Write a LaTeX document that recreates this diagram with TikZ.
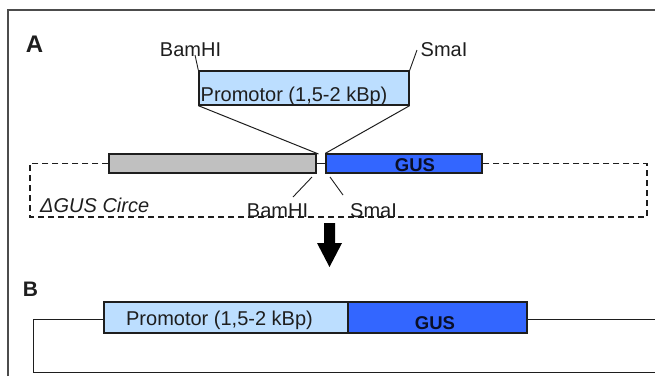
\documentclass[tikz,border=0pt]{standalone}
\usepackage{fontspec}
\setmainfont{Liberation Sans}
\definecolor{lightblue}{RGB}{188,222,255}
\definecolor{gusblue}{RGB}{51,102,255}
\definecolor{bargray}{RGB}{192,192,192}
\definecolor{ink}{RGB}{30,30,30}
\definecolor{gusink}{RGB}{10,15,40}
\begin{document}
\begin{tikzpicture}[x=1pt,y=-1pt,
  bar/.style={draw=ink,line width=1.3pt,inner sep=0pt,rectangle},
  txt/.style={inner sep=0pt,anchor=base,text=ink,font=\fontsize{20}{24}\selectfont},
  gustxt/.style={inner sep=0pt,anchor=base,text=gusink,font=\fontsize{18.5}{22}\selectfont\bfseries},
  tick/.style={draw=ink,line width=0.9pt},
  conn/.style={draw=ink,line width=1pt},
  dashline/.style={draw=ink,line width=1.2pt,dash pattern=on 6pt off 4pt}]
\useasboundingbox (0,0) rectangle (655,376);
% frame
\draw[draw=black!70,line width=1.5pt] (8,376) -- (8,10) -- (655,10);
% labels A, B
\node[txt,font=\fontsize{24}{28}\selectfont\bfseries] (lA) at (34.5,52) {A};
\node[txt,font=\fontsize{21}{25}\selectfont\bfseries] (lB) at (30.5,296) {B};
% Part A
\node[bar,fill=lightblue,minimum width=210pt,minimum height=34pt] (promA) at (304,88) {};
\node[txt,anchor=base west] (promAt) at (200.5,101) {Promotor (1,5-2 kBp)};
\node[txt] (bamTop) at (190.5,56) {BamHI};
\node[txt] (smaTop) at (444,56) {SmaI};
\coordinate (bamTopEnd) at (195,55);
\coordinate (smaTopEnd) at (417,50);
\draw[tick] (bamTopEnd) -- (promA.north west);
\draw[tick] (smaTopEnd) -- (promA.north east);
\node[bar,fill=bargray,minimum width=207pt,minimum height=19pt] (gray) at (212.5,163.5) {};
\node[bar,fill=gusblue,minimum width=156pt,minimum height=19pt] (gusA) at (404,163.5) {};
\node[gustxt] (gusAt) at (415,171.5) {GUS};
\coordinate (ins) at (318.5,154);
\draw[conn] (promA.south west) -- (ins);
\draw[conn] (promA.south east) -- (gusA.north west);
\draw[conn] (gray.east) -- (gusA.west);
\draw[dashline] (gray.west) -- (30,163.5) -- (30,217) -- (647,217) -- (647,163.5) -- (gusA.east);
\node[txt,anchor=base west,font=\fontsize{20}{24}\selectfont\itshape] (circe) at (40,212) {ΔGUS Circe};
\node[txt] (bamLow) at (277.5,217) {BamHI};
\node[txt] (smaLow) at (373.5,217) {SmaI};
\coordinate (bamLowA) at (312,177);
\coordinate (bamLowB) at (293,197);
\coordinate (smaLowA) at (330,177);
\coordinate (smaLowB) at (343,195);
\draw[tick] (bamLowA) -- (bamLowB);
\draw[tick] (smaLowA) -- (smaLowB);
% arrow
\fill[black] (324,223) -- (335,223) -- (335,243) -- (342,243) -- (329.5,267) -- (317,243) -- (324,243) -- cycle;
% Part B
\node[bar,fill=lightblue,minimum width=244pt,minimum height=31pt] (promB) at (226,317.5) {};
\node[bar,fill=gusblue,minimum width=179pt,minimum height=31pt] (gusB) at (437.5,317.5) {};
\node[txt] (promBt) at (219.5,325) {Promotor (1,5-2 kBp)};
\node[gustxt] (gusBt) at (435,329) {GUS};
\coordinate (loopR) at (655,319);
\coordinate (loopBR) at (655,372);
\draw[conn] (promB.west |- 0,319) -- (33,319) -- (33,372) -- (loopBR);
\draw[conn] (gusB.east |- 0,319) -- (loopR);
\end{tikzpicture}
\end{document}
